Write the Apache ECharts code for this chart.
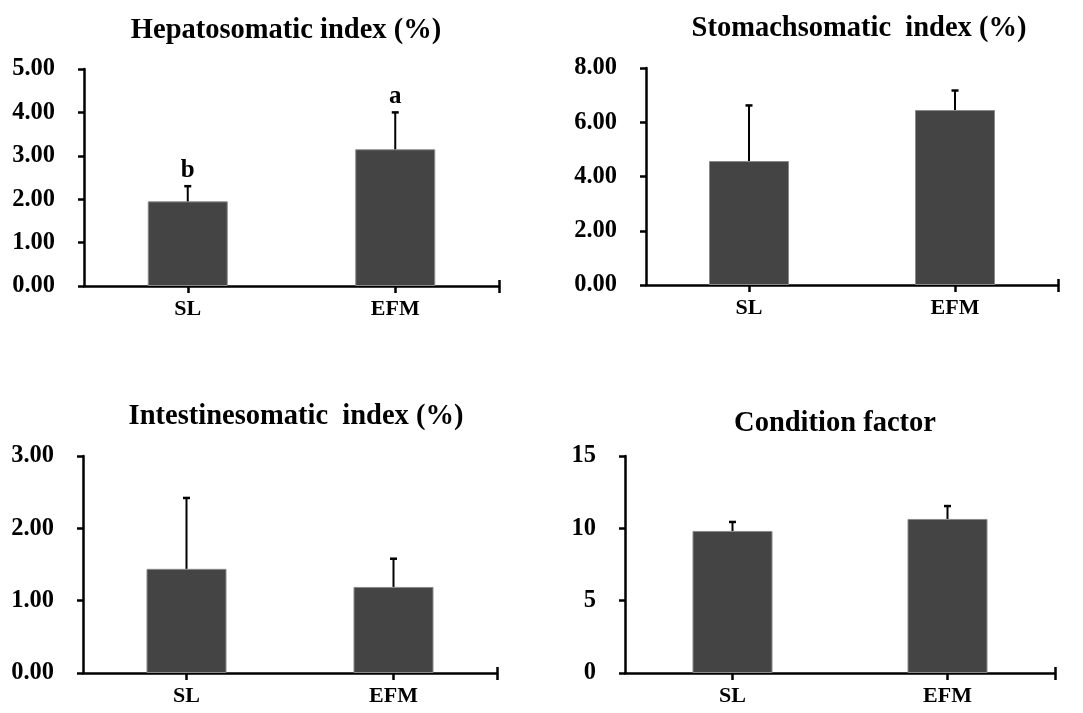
<!DOCTYPE html>
<html>
<head>
    <meta charset="utf-8">
    <script src="https://cdn.jsdelivr.net/npm/echarts@6/dist/echarts.min.js"></script>
    <style>
        html, body { margin: 0; padding: 0; background: #fff; }
        #main { width: 1083px; height: 713px; }
    </style>
</head>
<body>
<div id="main"></div>
<script>
    // groups and their positions on the x scale
    var groups = ['SL', 'EFM'];
    var positions = [0.5, 1.5];

    // Hepatosomatic index (%)
    var hsiMean = [1.95, 3.15];
    var hsiSd = [0.35, 0.85];
    var hsiLetters = ['b', 'a'];
    // Stomachsomatic index (%)
    var ssiMean = [4.57, 6.45];
    var ssiSd = [2.05, 0.72];
    // Intestinesomatic index (%)
    var isiMean = [1.44, 1.19];
    var isiSd = [0.98, 0.39];
    // Condition factor
    var cfMean = [9.82, 10.65];
    var cfSd = [0.62, 0.89];

    var titles = ['Hepatosomatic index (%)', 'Stomachsomatic  index (%)', 'Intestinesomatic  index (%)', 'Condition factor'];
    var yMax = [5, 8, 3, 15];
    var yStep = [1, 2, 1, 5];
    var yDigits = [2, 2, 2, 0];

    var font = '"Liberation Serif", "Times New Roman", serif';
    var panels = [
        {mean: hsiMean, sd: hsiSd, letters: hsiLetters},
        {mean: ssiMean, sd: ssiSd, letters: null},
        {mean: isiMean, sd: isiSd, letters: null},
        {mean: cfMean, sd: cfSd, letters: null}
    ];

    var grids = [
        {left: 84, top: 69, width: 415, height: 217},
        {left: 646, top: 68, width: 412, height: 217},
        {left: 83, top: 456, width: 414, height: 217},
        {left: 625, top: 456, width: 430, height: 217}
    ];
    var titlePos = [[281, 11], [854, 9], [291, 397], [830, 404]];

    var xAxes = [], yAxes = [], series = [], titleList = [];

    for (var i = 0; i < 4; i++) {
        titleList.push({
            text: titles[i],
            left: titlePos[i][0],
            top: titlePos[i][1],
            textAlign: 'center',
            textStyle: {fontFamily: font, fontWeight: 'bold', fontSize: 28.5, color: '#000'}
        });
        // main x axis, ticks below
        xAxes.push({
            gridIndex: i, type: 'value', min: 0, max: 2, position: 'bottom',
            splitLine: {show: false},
            axisLine: {lineStyle: {color: '#000', width: 2.5}},
            axisTick: {length: 7, lineStyle: {color: '#000', width: 2.5}, customValues: [0.5, 1.5, 2]},
            axisLabel: {
                customValues: positions, margin: 12,
                color: '#000', fontFamily: font, fontWeight: 'bold', fontSize: 22,
                formatter: function (v) { return groups[positions.indexOf(v)]; }
            }
        });
        // same axis again, only for the part of ticks above the line
        xAxes.push({
            gridIndex: i, type: 'value', min: 0, max: 2, position: 'bottom',
            splitLine: {show: false},
            axisLine: {show: false},
            axisTick: {inside: true, length: 6, lineStyle: {color: '#000', width: 2.5}, customValues: [0.5, 1.5, 2]},
            axisLabel: {show: false}
        });
        (function (d) {
            yAxes.push({
                gridIndex: i, type: 'value', min: 0, max: yMax[i], interval: yStep[i],
                splitLine: {show: false},
                axisLine: {show: true, lineStyle: {color: '#000', width: 2.5}},
                axisTick: {show: true, length: 6, lineStyle: {color: '#000', width: 2.5}},
                axisLabel: {
                    margin: 29, color: '#000', fontFamily: font, fontWeight: 'bold', fontSize: 24.5,
                    formatter: function (v) { return v.toFixed(d); }
                }
            });
        })(yDigits[i]);

        var p = panels[i];
        var barData = [], errData = [];
        for (var k = 0; k < groups.length; k++) {
            barData.push([positions[k], p.mean[k]]);
            errData.push([positions[k], p.mean[k], p.sd[k], p.letters ? p.letters[k] : '']);
        }
        series.push({
            type: 'bar', xAxisIndex: i * 2, yAxisIndex: i,
            barWidth: 80,
            itemStyle: {color: '#444444', borderColor: '#8a8a8a', borderWidth: 1},
            data: barData
        });
        series.push({
            type: 'custom', xAxisIndex: i * 2, yAxisIndex: i, z: 5,
            renderItem: function (params, api) {
                var x = api.value(0), m = api.value(1), e = api.value(2);
                var p0 = api.coord([x, m]);
                var p1 = api.coord([x, m + e]);
                var children = [
                    {type: 'line', shape: {x1: p0[0], y1: p0[1], x2: p1[0], y2: p1[1]},
                        style: {stroke: '#000', lineWidth: 2}},
                    {type: 'line', shape: {x1: p1[0] - 3.5, y1: p1[1], x2: p1[0] + 3.5, y2: p1[1]},
                        style: {stroke: '#000', lineWidth: 2.5}}
                ];
                var letter = api.value(3);
                if (letter) {
                    children.push({
                        type: 'text',
                        style: {
                            text: letter, x: p1[0], y: p1[1] - 3,
                            align: 'center', verticalAlign: 'bottom',
                            fill: '#000', font: 'bold 25px ' + font
                        }
                    });
                }
                return {type: 'group', children: children};
            },
            dimensions: ['x', 'mean', 'sd', {name: 'letter', type: 'ordinal'}],
            data: errData
        });
    }

    var chart = echarts.init(document.getElementById('main'));
    chart.setOption({
        animation: false,
        backgroundColor: '#fff',
        title: titleList,
        grid: grids,
        xAxis: xAxes,
        yAxis: yAxes,
        series: series
    });
</script>
</body>
</html>
